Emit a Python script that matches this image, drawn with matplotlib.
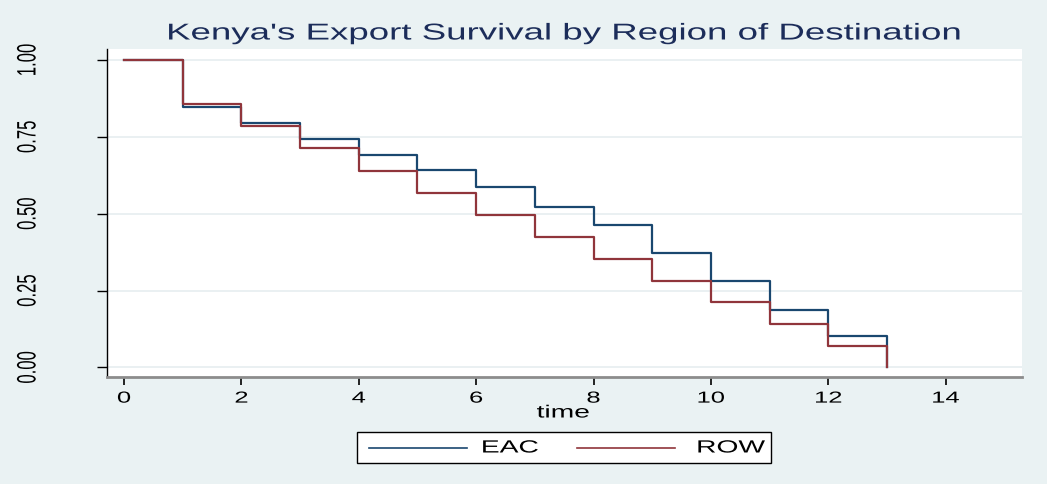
import matplotlib
matplotlib.use("Agg")
import matplotlib.pyplot as plt
from matplotlib.lines import Line2D
from matplotlib.patches import Rectangle
from matplotlib.patheffects import AbstractPathEffect
from matplotlib.transforms import Affine2D

# Data
time_pts = [0, 1, 2, 3, 4, 5, 6, 7, 8, 9, 10, 11, 12, 13]
eac_surv = [1.00, 0.846, 0.794, 0.742, 0.692, 0.642, 0.588, 0.522, 0.464, 0.372, 0.282, 0.187, 0.103, 0.0]
row_surv = [1.00, 0.856, 0.786, 0.714, 0.640, 0.569, 0.496, 0.425, 0.354, 0.282, 0.213, 0.141, 0.070, 0.0]
series_names = ["EAC", "ROW"]
x_ticks = [0, 2, 4, 6, 8, 10, 12, 14]
y_ticks = [0.00, 0.25, 0.50, 0.75, 1.00]
y_tick_labels = ["0.00", "0.25", "0.50", "0.75", "1.00"]
title = "Kenya's Export Survival by Region of Destination"
x_label = "time"

bg = "#EAF2F3"
c_eac = "#1a476f"
c_row = "#90353b"
SX = 1.6  # horizontal stretch of glyphs (the reference text is widened)


class HStretch(AbstractPathEffect):
    """Widen text glyphs horizontally about their own centre."""
    def __init__(self, sx):
        super().__init__()
        self.sx = sx

    def draw_path(self, renderer, gc, tpath, affine, rgbFace=None):
        ext = tpath.get_extents(affine)
        cx = 0.5 * (ext.x0 + ext.x1)
        new = affine + Affine2D().translate(-cx, 0).scale(self.sx, 1).translate(cx, 0)
        renderer.draw_path(gc, tpath, new, rgbFace)


stretch = [HStretch(SX)]

plt.rcParams['font.family'] = ['Liberation Sans', 'DejaVu Sans']

W, H = 1047, 485
fig = plt.figure(figsize=(W / 100, H / 100), dpi=100, facecolor=bg)
ax = fig.add_axes([107 / W, 1 - 378 / H, (1022 - 107) / W, (378 - 50) / H])
ax.set_facecolor("white")

ax.step(time_pts, eac_surv, where='post', color=c_eac, lw=1.6)
ax.step(time_pts, row_surv, where='post', color=c_row, lw=1.6)

ax.set_xlim(-0.29, 15.3)
ax.set_ylim(-0.031, 1.036)
ax.set_xticks(x_ticks)
ax.set_yticks(y_ticks)
ax.set_yticklabels(y_tick_labels, rotation=90, va='center', ha='center')
ax.grid(axis='y', color="#E6EEF0", lw=1.2)
ax.set_axisbelow(True)

for s in ['top', 'right']:
    ax.spines[s].set_visible(False)
ax.spines['left'].set_color('black')
ax.spines['left'].set_linewidth(1.0)
ax.spines['bottom'].set_color('#8c8c8c')
ax.spines['bottom'].set_linewidth(2.0)

ax.tick_params(axis='y', length=7.2, width=1, pad=50, labelsize=12, colors='black')
ax.tick_params(axis='x', length=5.8, width=1.2, pad=4, labelsize=11.5, colors='black')
for t in ax.xaxis.get_major_ticks() + ax.yaxis.get_major_ticks():
    t.label1.set_path_effects(stretch)

ax.set_xlabel(x_label, fontsize=12.7)
ax.xaxis.label.set_va('center')
ax.xaxis.set_label_coords((563 - 107) / (1022 - 107), (378 - 414) / (378 - 50))
ax.xaxis.label.set_path_effects(stretch)

fig.text(564 / W, 1 - 34 / H, title, ha='center', va='center', fontsize=16.5,
         color="#1c2d5a", path_effects=stretch)

# Legend (drawn in figure pixel coordinates)
fig.add_artist(Rectangle((357 / W, 1 - 464 / H), (771 - 357) / W, (464 - 433) / H,
                         transform=fig.transFigure, facecolor='white', edgecolor='black', lw=1.0))
leg_y = 1 - 449 / H
fig.add_artist(Line2D([369 / W, 467 / W], [leg_y, leg_y], transform=fig.transFigure, color=c_eac, lw=1.2))
fig.add_artist(Line2D([577 / W, 675 / W], [leg_y, leg_y], transform=fig.transFigure, color=c_row, lw=1.2))
fig.text(510 / W, leg_y, series_names[0], ha='center', va='center', fontsize=12.7, path_effects=stretch)
fig.text(731 / W, leg_y, series_names[1], ha='center', va='center', fontsize=12.7, path_effects=stretch)

fig.savefig("out.png", dpi=100, facecolor=bg)
